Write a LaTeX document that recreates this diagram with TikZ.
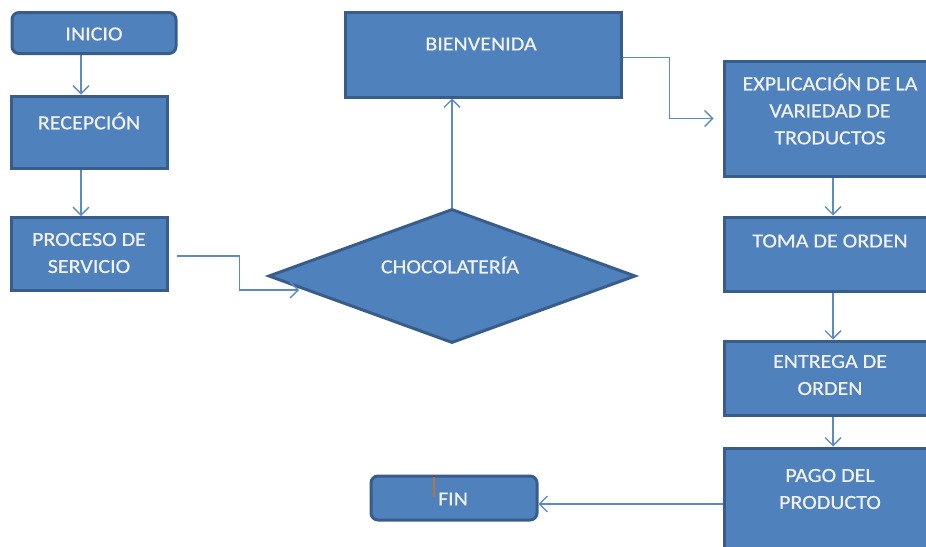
\documentclass[tikz,border=0pt]{standalone}
\usepackage{fontspec}
\setmainfont{Carlito}[FakeStretch=1.1,FakeBold=0.6]
\usetikzlibrary{shapes.geometric,arrows.meta}
\definecolor{fillc}{HTML}{4F81BD}
\definecolor{bord}{HTML}{385D8A}
\definecolor{linec}{HTML}{5A8AC8}
\definecolor{txtc}{HTML}{F2F2F2}
\definecolor{curc}{HTML}{B07838}
\tikzset{
  box/.style={draw=bord, fill=fillc, line width=3pt, inner sep=0pt, rectangle},
  rbox/.style={box, rounded corners=7pt},
  dia/.style={draw=bord, fill=fillc, line width=3pt, inner sep=0pt, diamond},
  txt/.style={text=txtc, font=\fontsize{20}{27}\selectfont, align=center, inner sep=0pt},
  conn/.style={draw=linec, line width=1.3pt, -{Straight Barb[length=8pt,width=16pt,line width=1.3pt]}},
}
\begin{document}
\begin{tikzpicture}[x=1pt,y=-1pt]
\useasboundingbox (0,0) rectangle (926,546);
\clip (0,0) rectangle (926,546);
\fill[white] (0,0) rectangle (926,546);
% boxes
\node[rbox, minimum width=164pt, minimum height=41pt] (ini) at (94,33) {};
\node[box, minimum width=156pt, minimum height=72pt] (rec) at (89,132) {};
\node[box, minimum width=156pt, minimum height=73pt] (pro) at (89,254) {};
\node[dia, minimum width=367pt, minimum height=134pt] (cho) at (452,276) {};
\node[box, minimum width=276pt, minimum height=85pt] (bien) at (483,54.5) {};
\node[box, minimum width=212pt, minimum height=115pt] (exp) at (830,118.5) {};
\node[box, minimum width=212pt, minimum height=74pt] (toma) at (830,254) {};
\node[box, minimum width=212pt, minimum height=74pt] (ent) at (830,378) {};
\node[box, minimum width=212pt, minimum height=112pt] (pago) at (830,504) {};
\node[rbox, minimum width=166pt, minimum height=44pt] (fin) at (454,498) {};
% texts
\node[txt] (tini) at (94,34) {INICIO};
\node[txt] (trec) at (89,121) {RECEPCIÓN};
\node[txt] (tpro) at (89,253) {PROCESO DE\\SERVICIO};
\node[txt] (tcho) at (450,265) {CHOCOLATERÍA};
\node[txt] (tbien) at (481,44) {BIENVENIDA};
\node[txt] (texp) at (830,109) {EXPLICACIÓN DE LA\\VARIEDAD DE\\TRODUCTOS};
\node[txt] (ttoma) at (830,241) {TOMA DE ORDEN};
\node[txt] (tent) at (830,375) {ENTREGA DE\\ORDEN};
\node[txt] (tpago) at (830,489) {PAGO DEL\\PRODUCTO};
\node[txt] (tfin) at (453,499) {FIN};
% cursor mark
\draw[curc, line width=2pt] (434,476) -- (434,497);
\fill[black!70] (433,474.5) rectangle (435,477);
% connectors
\draw[conn] ([shift={(-13,0)}]ini.south) -- ([shift={(-8,0)}]rec.north);
\draw[conn] ([shift={(-8,0)}]rec.south) -- ([shift={(-8,0)}]pro.north);
\draw[conn] ([shift={(8,2)}]pro.east) -- ++(63,0) |- ([shift={(32,14)}]cho.west);
\draw[conn] (cho.north) -- (cho.north |- bien.south);
\draw[conn] ([shift={(0,3)}]bien.east) -- ++(47,0) |- ([shift={(-9,0)}]exp.west);
\draw[conn] ([shift={(3,0)}]exp.south) -- ([shift={(3,0)}]toma.north);
\draw[conn] ([shift={(3,0)}]toma.south) -- ([shift={(3,0)}]ent.north);
\draw[conn] ([shift={(3,0)}]ent.south) -- ([shift={(3,0)}]pago.north);
\draw[conn] (pago.west) -- (pago.west -| fin.east);
\end{tikzpicture}
\end{document}
